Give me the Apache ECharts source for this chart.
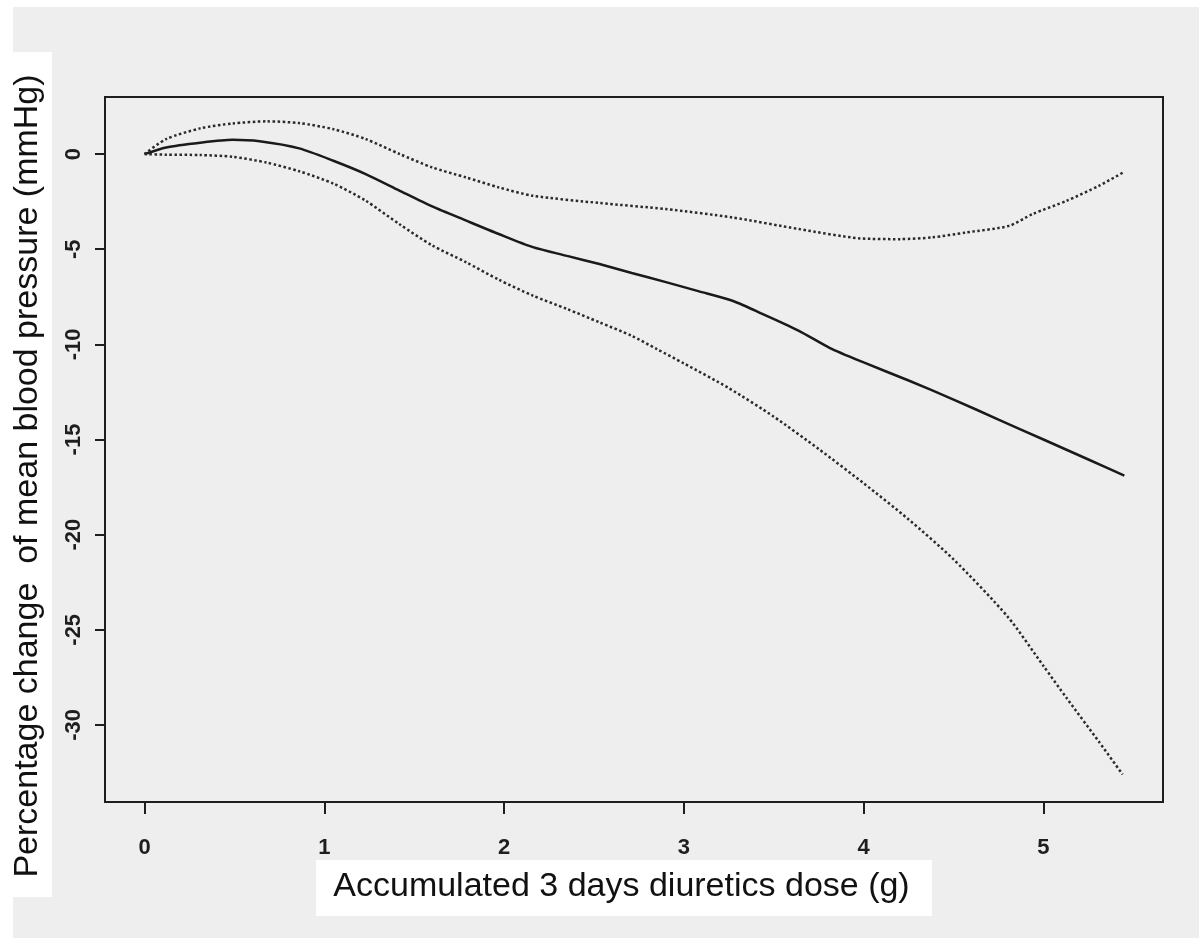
<!DOCTYPE html>
<html>
<head>
<meta charset="utf-8">
<script src="https://cdn.jsdelivr.net/npm/echarts@6/dist/echarts.min.js"></script>
<style>
html,body{margin:0;padding:0;background:#ffffff;}
#chart{width:1199px;height:938px;}
</style>
</head>
<body>
<div id="chart"></div>
<script>
// ---- data ----
const xTicks = [0, 1, 2, 3, 4, 5];
const yTicks = [0, -5, -10, -15, -20, -25, -30];

const estX = [0, 0.12, 0.31, 0.49, 0.64, 0.86, 1.05, 1.23, 1.42, 1.60, 1.79, 1.97, 2.16, 2.35, 2.53, 2.71, 2.90, 3.08, 3.27, 3.46, 3.64, 3.81, 4.0, 4.25, 4.5, 4.75, 5.0, 5.25, 5.45];
const estY = [0, 0.35, 0.6, 0.75, 0.67, 0.30, -0.35, -1.05, -1.93, -2.75, -3.50, -4.2, -4.89, -5.35, -5.78, -6.25, -6.73, -7.2, -7.71, -8.50, -9.29, -10.18, -10.95, -11.9, -12.9, -13.95, -15.0, -16.05, -16.9];

const upX = [0, 0.12, 0.31, 0.49, 0.68, 0.86, 1.05, 1.23, 1.42, 1.60, 1.79, 1.97, 2.16, 2.53, 2.90, 3.27, 3.64, 3.98, 4.20, 4.38, 4.57, 4.81, 4.94, 5.13, 5.31, 5.45];
const upY = [0, 0.79, 1.35, 1.61, 1.72, 1.63, 1.31, 0.79, 0.0, -0.70, -1.23, -1.75, -2.19, -2.57, -2.89, -3.33, -3.94, -4.43, -4.47, -4.38, -4.12, -3.77, -3.15, -2.45, -1.66, -0.93];

const loX = [0, 0.12, 0.31, 0.49, 0.68, 0.86, 1.05, 1.23, 1.42, 1.60, 1.79, 1.97, 2.16, 2.35, 2.53, 2.71, 2.85, 3.0, 3.25, 3.5, 3.75, 4.0, 4.25, 4.5, 4.8, 5.0, 5.13, 5.31, 5.44];
const loY = [0, -0.03, -0.05, -0.14, -0.45, -0.9, -1.55, -2.45, -3.7, -4.8, -5.69, -6.6, -7.44, -8.14, -8.84, -9.55, -10.25, -11.0, -12.3, -13.8, -15.5, -17.3, -19.2, -21.3, -24.3, -26.9, -28.6, -30.9, -32.6];

const xTitle = 'Accumulated 3 days diuretics dose (g)';
const yTitle = 'Percentage change  of mean blood pressure (mmHg)';

const zip = (a, b) => a.map((v, i) => [v, b[i]]);

const chart = echarts.init(document.getElementById('chart'), null, {renderer: 'canvas'});
const tickFont = "'Liberation Sans Narrow', 'Arial Narrow', 'Liberation Sans', Arial, sans-serif";
const titleFont = "'Liberation Sans', Arial, sans-serif";
const ink = '#1e1e1e';

chart.setOption({
  backgroundColor: '#ffffff',
  animation: false,
  graphic: [
    {type: 'rect', z: -10, silent: true, shape: {x: 13, y: 7, width: 1186, height: 931}, style: {fill: '#eeeeee'}},
    {type: 'rect', z: -9, silent: true, shape: {x: 0, y: 52, width: 52, height: 845}, style: {fill: '#ffffff'}},
    {type: 'rect', z: -9, silent: true, shape: {x: 316, y: 860, width: 616, height: 56}, style: {fill: '#ffffff'}}
  ],
  grid: {
    left: 105, right: 36, top: 97, bottom: 136,
    show: true, borderColor: ink, borderWidth: 2, backgroundColor: 'transparent'
  },
  xAxis: {
    type: 'value', min: -0.22, max: 5.665,
    splitLine: {show: false},
    axisLine: {show: true, onZero: false, lineStyle: {color: ink, width: 2}},
    axisTick: {show: true, inside: false, customValues: xTicks, length: 12, lineStyle: {color: ink, width: 2}},
    axisLabel: {customValues: xTicks, margin: 35, color: ink, fontFamily: tickFont, fontWeight: 'bold', fontSize: 22},
    name: xTitle, nameLocation: 'middle', nameGap: 68,
    nameTextStyle: {fontFamily: titleFont, fontSize: 34, color: '#111', padding: [0, 25, 0, 0]}
  },
  yAxis: {
    type: 'value', min: -34.05, max: 3.0,
    splitLine: {show: false},
    axisLine: {show: true, onZero: false, lineStyle: {color: ink, width: 2}},
    axisTick: {show: true, inside: false, customValues: yTicks, length: 10, lineStyle: {color: ink, width: 2}},
    axisLabel: {customValues: yTicks, rotate: 90, margin: 20, color: ink, fontFamily: tickFont, fontWeight: 'bold', fontSize: 22},
    name: yTitle, nameLocation: 'middle', nameRotate: 90, nameGap: 60,
    nameTextStyle: {fontFamily: titleFont, fontSize: 34, color: '#111', padding: [0, 53, 0, 0]}
  },
  series: [
    {type: 'line', name: 'estimate', data: zip(estX, estY), showSymbol: false, smooth: 0.25,
     lineStyle: {color: '#1a1a1a', width: 2.5, type: 'solid'}},
    {type: 'line', name: 'upper', data: zip(upX, upY), showSymbol: false, smooth: 0.25,
     lineStyle: {color: '#2a2a2a', width: 2.5, type: [2.5, 2.5]}},
    {type: 'line', name: 'lower', data: zip(loX, loY), showSymbol: false, smooth: 0.25,
     lineStyle: {color: '#2a2a2a', width: 2.5, type: [2.5, 2.5]}}
  ]
});
</script>
</body>
</html>
